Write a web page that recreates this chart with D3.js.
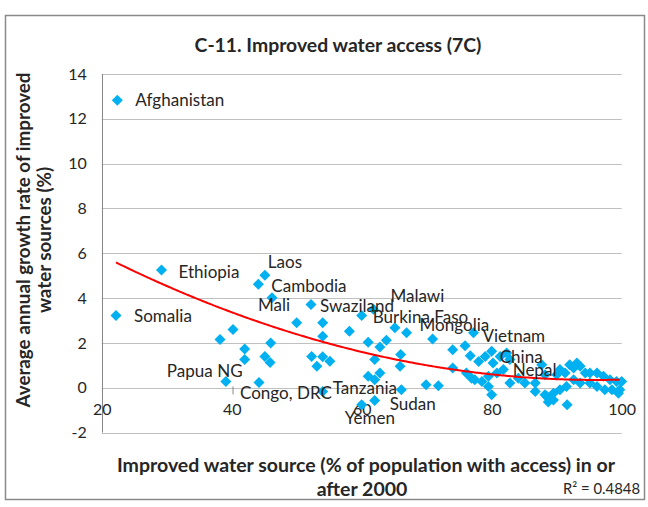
<!DOCTYPE html>
<html>
<head>
<meta charset="utf-8">
<script src="https://cdn.jsdelivr.net/npm/d3@7"></script>
<style>
  html, body { margin: 0; padding: 0; background: #ffffff; }
  svg { display: block; }
  text { font-family: Lato, "Open Sans", "DejaVu Sans", sans-serif; fill: #262626; }
</style>
</head>
<body>
<svg id="chart" width="648" height="507"></svg>
<script>
// ---------------- data ----------------
const chartTitle = "C-11. Improved water access (7C)";
const xTitleLines = ["Improved water source (% of population with access) in or", "after 2000"];
const yTitleLines = ["Average annual growth rate of improved", "water sources (%)"];
const rSquaredText = "R² = 0.4848";

const xTicks = [20, 40, 60, 80, 100];
const yTicks = [-2, 0, 2, 4, 6, 8, 10, 12, 14];

// labelled countries
const labelNames = ["Afghanistan", "Ethiopia", "Somalia", "Laos", "Cambodia", "Mali", "Swaziland",
  "Malawi", "Burkina Faso", "Mongolia", "Vietnam", "China", "Nepal", "Papua NG", "Congo, DRC",
  "Tanzania", "Sudan", "Yemen"];
const labelX = [22.4, 29.2, 22.2, 45.1, 44.1, 46.2, 52.2, 61.8, 60.0, 66.9, 77.2, 80.0, 82.3, 39.1, 44.2, 54.0, 62.0, 60.0];
const labelY = [12.83, 5.26, 3.23, 5.02, 4.62, 4.02, 3.72, 3.5, 3.23, 2.45, 2.45, 1.63, 1.55, 0.28, 0.24, -0.17, -0.57, -0.76];

// other (unlabelled) countries
const otherX = [40.2, 38.2, 46.0, 42.0, 42.0, 45.1, 45.9, 50.0, 54.0, 54.0, 58.1, 61.0, 62.8, 63.8, 65.1,
  66.0, 65.9, 70.9, 74.0, 75.9, 74.0, 52.3, 53.1, 54.0, 55.1, 62.0, 61.0, 62.8, 62.0, 66.1, 69.9, 71.8,
  76.9, 79.0, 80.2, 81.3, 82.8, 81.8, 80.8, 79.5, 76.1, 77.4, 78.5, 79.5, 80.0, 82.8, 84.1, 85.1, 86.7,
  86.7, 87.7, 88.2, 88.7, 88.2, 78.0, 76.7,
  91.3, 92.6, 93.6, 94.4, 95.1, 96.2, 97.2, 98.2, 99.2, 100.0, 99.7, 98.5, 97.4, 96.2, 95.1, 93.6, 92.6,
  91.5, 90.5, 89.5, 89.5, 91.6, 88.5, 90.0, 90.5, 92.0, 93.1, 99.5];
const otherY = [2.6, 2.15, 2.0, 1.73, 1.26, 1.4, 1.13, 2.9, 2.9, 2.3, 2.52, 2.03, 1.82, 2.12, 2.68,
  1.48, 0.96, 2.18, 1.7, 1.88, 0.88, 1.4, 0.96, 1.38, 1.18, 1.26, 0.51, 0.66, 0.36, -0.09, 0.13, 0.09,
  0.43, 1.4, 1.1, 1.4, 1.26, 0.81, 0.66, 0.51, 0.66, 0.36, 0.28, 0.06, -0.31, 0.21, 0.43, 0.21, 0.21,
  -0.17, 1.03, 0.58, -0.63, -0.31, 1.17, 1.43,
  0.66, 0.88, 0.96, 0.66, 0.66, 0.66, 0.51, 0.36, 0.28, 0.28, -0.09, -0.09, -0.09, 0.06, 0.21, 0.21, 0.36,
  0.06, -0.09, -0.24, -0.54, -0.76, -0.39, 0.58, 0.81, 1.03, 1.1, -0.24];

// polynomial (order 2) trendline coefficients: y = c0 + c1*x + c2*x^2
const trendCoef = [9.214, -0.1845, 0.00096];

// ---------------- layout / style ----------------
const svg = d3.select("#chart");
const plot = { left: 101.7, right: 621.7, top: 74, bottom: 432.6 };
const markerColor = "#00B0F0";
const gridColor = "#c0c0c0";
const axisColor = "#868686";

const x = d3.scaleLinear().domain([20, 100]).range([plot.left, plot.right]);
const y = d3.scaleLinear().domain([-2, 14]).range([plot.bottom, plot.top]);

// chart frame
svg.append("rect").attr("x", 5.5).attr("y", 15.5).attr("width", 639).attr("height", 484)
  .attr("fill", "#fff").attr("stroke", "#8a8a8a").attr("stroke-width", 1.5);

function fitWidth(sel, target) {
  const fs = parseFloat(sel.attr("font-size"));
  const w = sel.node().getComputedTextLength();
  sel.attr("font-size", (fs * target / w).toFixed(2));
}

// title
const title = svg.append("text").attr("x", 338).attr("y", 52).attr("text-anchor", "middle")
  .attr("font-size", 16).attr("font-weight", "bold").text(chartTitle);
fitWidth(title, 287);

// horizontal gridlines
svg.append("g").selectAll("line").data(yTicks).join("line")
  .attr("x1", plot.left).attr("x2", plot.right)
  .attr("y1", d => Math.round(y(d)) + 0.5).attr("y2", d => Math.round(y(d)) + 0.5)
  .attr("stroke", gridColor).attr("stroke-width", 1);

// y axis line (at x = 20)
svg.append("line").attr("x1", Math.round(x(20)) + 0.5).attr("x2", Math.round(x(20)) + 0.5)
  .attr("y1", y(14)).attr("y2", y(-2)).attr("stroke", axisColor).attr("stroke-width", 1);

// y axis labels
const yAxis = d3.axisLeft(y).tickValues(yTicks).tickSize(0).tickPadding(0).tickFormat(d => String(d));
const gy = svg.append("g").attr("transform", `translate(${plot.left - 15},0)`).call(yAxis);
gy.select(".domain").remove();
gy.selectAll("text").attr("font-size", 16).attr("font-family", "Lato, sans-serif").attr("fill", "#262626");

// x axis labels (sitting under the zero line)
const xAxis = d3.axisBottom(x).tickValues(xTicks).tickSize(0).tickPadding(0).tickFormat(d => String(d));
const gx = svg.append("g").attr("transform", `translate(0,${y(0) + 22})`).call(xAxis);
gx.select(".domain").remove();
gx.selectAll("text").attr("font-size", 16).attr("font-family", "Lato, sans-serif").attr("fill", "#262626")
  .attr("dy", "0.32em");

// points
const labelled = labelNames.map((n, i) => ({ name: n, x: labelX[i], y: labelY[i] }));
const others = otherX.map((v, i) => ({ x: v, y: otherY[i] }));
const allPts = labelled.concat(others);
const diamond = "M0,-5.5L5.5,0L0,5.5L-5.5,0Z";
svg.append("g").selectAll("path").data(allPts).join("path")
  .attr("d", diamond)
  .attr("transform", d => `translate(${x(d.x)},${y(d.y)})`)
  .attr("fill", markerColor);

// trendline over the data's x range
const xs = d3.extent(allPts, d => d.x);
const trendPts = d3.range(xs[0], xs[1] + 0.001, 0.5)
  .map(v => [v, trendCoef[0] + trendCoef[1] * v + trendCoef[2] * v * v]);
svg.append("path").datum(trendPts)
  .attr("d", d3.line().x(d => x(d[0])).y(d => y(d[1])).curve(d3.curveMonotoneX))
  .attr("fill", "none").attr("stroke", "#ff0000").attr("stroke-width", 2);

// data labels (offsets from their point, in px)
const labelOffsets = {
  "Afghanistan": [18, 0], "Ethiopia": [17, 2], "Somalia": [18, 1], "Laos": [3, -13],
  "Cambodia": [13, 2], "Mali": [-14, 7], "Swaziland": [9, 2], "Malawi": [17, -13],
  "Burkina Faso": [11, 2], "Mongolia": [13, -8], "Vietnam": [9, 3], "China": [8, 6],
  "Nepal": [6, 17], "Papua NG": [-59, -10], "Congo, DRC": [-19, 11], "Tanzania": [10, -4],
  "Sudan": [15, 3], "Yemen": [-17, 13]
};
const lbl = svg.append("g").selectAll("text").data(labelled).join("text")
  .attr("x", d => x(d.x) + labelOffsets[d.name][0])
  .attr("y", d => y(d.y) + labelOffsets[d.name][1])
  .attr("dy", "0.35em").attr("font-size", 16).text(d => d.name);
const afgNode = lbl.filter(d => d.name === "Afghanistan").node();
const lblFs = 16 * 89 / afgNode.getComputedTextLength();
lbl.attr("font-size", lblFs.toFixed(2));

// small leader line for Congo, DRC
const congo = labelled.find(d => d.name === "Congo, DRC");
svg.append("line")
  .attr("x1", x(congo.x) - 26).attr("x2", x(congo.x) - 26)
  .attr("y1", y(congo.y) + 4).attr("y2", y(congo.y) + 12)
  .attr("stroke", "#8a8a8a").attr("stroke-width", 1);

// y axis title
const yt = svg.append("g").attr("transform", "translate(0,240) rotate(-90)");
const yt1 = yt.append("text").attr("x", 0).attr("y", 23).attr("dy", "0.35em").attr("text-anchor", "middle")
  .attr("font-size", 16).attr("font-weight", "bold").text(yTitleLines[0]);
fitWidth(yt1, 335);
yt.append("text").attr("x", 0).attr("y", 44).attr("dy", "0.35em").attr("text-anchor", "middle")
  .attr("font-size", yt1.attr("font-size")).attr("font-weight", "bold").text(yTitleLines[1]);

// x axis title
const xt1 = svg.append("text").attr("x", 366).attr("y", 465).attr("dy", "0.35em").attr("text-anchor", "middle")
  .attr("font-size", 16).attr("font-weight", "bold").text(xTitleLines[0]);
fitWidth(xt1, 498);
svg.append("text").attr("x", 362).attr("y", 489).attr("dy", "0.35em").attr("text-anchor", "middle")
  .attr("font-size", xt1.attr("font-size")).attr("font-weight", "bold").text(xTitleLines[1]);

// R squared
const r2 = svg.append("text").attr("x", 640).attr("y", 489).attr("dy", "0.35em").attr("text-anchor", "end")
  .attr("font-size", 15).text(rSquaredText);
fitWidth(r2, 77);
</script>
</body>
</html>
